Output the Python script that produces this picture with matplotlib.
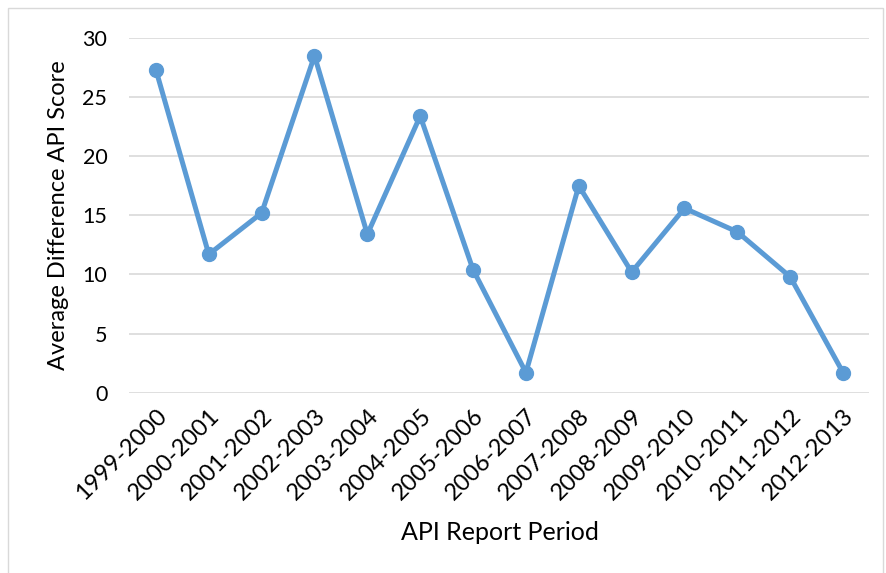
import matplotlib
matplotlib.use("Agg")
import matplotlib.pyplot as plt
from matplotlib.patches import Rectangle

periods = ["1999-2000", "2000-2001", "2001-2002", "2002-2003", "2003-2004",
           "2004-2005", "2005-2006", "2006-2007", "2007-2008", "2008-2009",
           "2009-2010", "2010-2011", "2011-2012", "2012-2013"]
avg_diff = [27.3, 11.7, 15.2, 28.5, 13.4, 23.4, 10.4, 1.7, 17.5, 10.2,
            15.6, 13.6, 9.8, 1.7]
y_ticks = [0, 5, 10, 15, 20, 25, 30]

plt.rcParams['font.family'] = ['Lato', 'DejaVu Sans']

W, H = 887, 573
fig = plt.figure(figsize=(W / 100, H / 100), dpi=100)
fig.patch.set_facecolor("white")

# light chart-area frame
fig.add_artist(Rectangle((8 / W, -0.01), (883 - 8) / W, (H - 8) / H + 0.01,
                         transform=fig.transFigure, fill=False,
                         edgecolor="#d9d9d9", linewidth=1.0))

ax = fig.add_axes([129.5 / W, (H - 392.7) / H, (869.5 - 129.5) / W, (392.7 - 38) / H])
x = list(range(len(periods)))
ax.plot(x, avg_diff, color="#5B9BD5", linewidth=3.6, marker="o",
        markersize=10, solid_joinstyle="round", zorder=3)

ax.set_xlim(-0.5, len(periods) - 0.5)
ax.set_ylim(0, 30)
ax.set_yticks(y_ticks)
ax.set_yticklabels([str(v) for v in y_ticks], fontsize=15.5)
ax.set_xticks(x)
ax.set_xticklabels(periods, fontsize=17, rotation=45, ha="right",
                   rotation_mode="anchor")
ax.tick_params(axis="both", length=0, colors="#000000")
ax.tick_params(axis="y", pad=16)
ax.tick_params(axis="x", pad=9)

ax.grid(axis="y", color="#d9d9d9", linewidth=1.2)
ax.set_axisbelow(True)
for s in ax.spines.values():
    s.set_visible(False)

ax.set_ylabel("Average Difference API Score", fontsize=17, labelpad=10)
ax.set_xlabel("API Report Period", fontsize=18, labelpad=12)

fig.savefig("out.png", dpi=100, facecolor="white")
